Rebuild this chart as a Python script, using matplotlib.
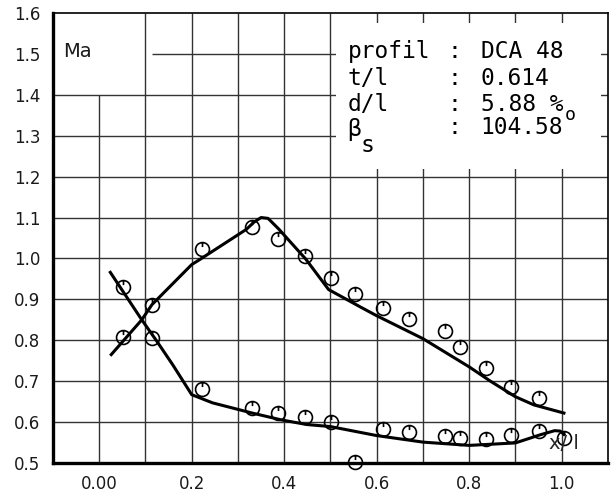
import numpy as np
import matplotlib.pyplot as plt
from matplotlib.path import Path
from matplotlib.patches import Rectangle

# measuring stations x/l
x_pts = [0.052, 0.114, 0.223, 0.331, 0.387, 0.445, 0.502, 0.554,
         0.614, 0.670, 0.747, 0.781, 0.836, 0.891, 0.950]
ma_ss = [0.809, 0.887, 1.024, 1.078, 1.047, 1.007, 0.951, 0.912,
         0.879, 0.853, 0.823, 0.784, 0.733, 0.685, 0.658]
x_ps = x_pts + [1.005]
ma_ps = [0.931, 0.806, 0.681, 0.635, 0.622, 0.613, 0.600, 0.503,
         0.583, 0.575, 0.566, 0.561, 0.559, 0.569, 0.577, 0.562]

# faired distributions
xs_ss = [0.026, 0.092, 0.114, 0.200, 0.217, 0.318, 0.335, 0.350, 0.365, 0.374,
         0.389, 0.447, 0.496, 0.567, 0.600, 0.700, 0.800, 0.846, 0.900, 0.940, 1.005]
ys_ss = [0.765, 0.850, 0.887, 0.985, 0.997, 1.071, 1.089, 1.100, 1.098, 1.088,
         1.071, 0.998, 0.924, 0.880, 0.860, 0.804, 0.735, 0.700, 0.662, 0.642, 0.622]
xs_ps = [0.024, 0.092, 0.125, 0.159, 0.200, 0.245, 0.331, 0.395, 0.449, 0.500,
         0.600, 0.700, 0.800, 0.900, 0.954, 0.985, 0.997, 1.005]
ys_ps = [0.966, 0.850, 0.797, 0.740, 0.667, 0.647, 0.622, 0.605, 0.594, 0.589,
         0.567, 0.551, 0.543, 0.549, 0.569, 0.579, 0.578, 0.570]

xticks = [0.0, 0.2, 0.4, 0.6, 0.8, 1.0]
xticklabels = ['0.00', '0.2', '0.4', '0.6', '0.8', '1.0']
yticks = np.round(np.arange(0.5, 1.61, 0.1), 1)

# open circle with a small tick at the top
circ = Path.make_compound_path(Path.unit_circle(),
                               Path([(0, 1), (0, 0.35)], [Path.MOVETO, Path.LINETO]))

fig = plt.figure(figsize=(6.14, 4.93), dpi=100)
ax = fig.add_axes([0.0863, 0.0609, 0.9037, 0.9127])
ax.set_xlim(-0.1, 1.1)
ax.set_ylim(0.5, 1.6)

gc = '0.2'
for gx in np.round(np.arange(0.0, 1.01, 0.1), 1):
    ax.vlines(gx, 0.5, 1.4 if gx == 0.0 else 1.6, color=gc, lw=1.0, zorder=0.5)
for gy in np.round(np.arange(0.6, 1.51, 0.1), 1):
    ax.hlines(gy, 0.114 if gy == 1.5 else -0.1, 1.1, color=gc, lw=1.0, zorder=0.5)

ax.add_patch(Rectangle((0.513, 1.218), 0.572, 0.357, fc='white', ec='none', zorder=0.8))

ax.plot(xs_ss, ys_ss, color='black', lw=2.2, zorder=2)
ax.plot(xs_ps, ys_ps, color='black', lw=2.2, zorder=2)
ax.plot(x_pts, ma_ss, ls='none', marker=circ, ms=10, mfc='none', mec='black',
        mew=1.2, zorder=3, clip_on=False)
ax.plot(x_ps, ma_ps, ls='none', marker=circ, ms=10, mfc='none', mec='black',
        mew=1.2, zorder=3, clip_on=False)

ax.set_xticks(xticks)
ax.set_xticklabels(xticklabels)
ax.set_yticks(yticks)
ax.set_yticklabels([f'{v:.1f}' for v in yticks])
ax.tick_params(length=0, labelsize=12, labelcolor='0.1')
ax.tick_params(axis='x', pad=9)
ax.tick_params(axis='y', pad=9)

for s in ['left', 'bottom']:
    ax.spines[s].set_linewidth(2.4)
for s in ['top', 'right']:
    ax.spines[s].set_linewidth(1.2)

ax.text(-0.077, 1.505, 'Ma', fontsize=14, ha='left', va='center', color='0.1')

mono = 'DejaVu Sans Mono'
fs = 16.5
rows = [('profil', 'DCA 48', 1.505), ('t/l', '0.614', 1.439),
        ('d/l', '5.88 %', 1.377)]
for lab, val, yy in rows:
    ax.text(0.537, yy, lab, family=mono, fontsize=fs, ha='left', va='center')
    ax.text(0.769, yy, ':', family=mono, fontsize=fs, ha='center', va='center')
    ax.text(0.825, yy, val, family=mono, fontsize=fs, ha='left', va='center')
ax.text(0.537, 1.315, '\u03b2', family=mono, fontsize=fs, ha='left', va='center')
ax.text(0.566, 1.277, 's', family=mono, fontsize=fs, ha='left', va='center')
ax.text(0.769, 1.319, ':', family=mono, fontsize=fs, ha='center', va='center')
ax.text(0.825, 1.319, '104.58', family=mono, fontsize=fs, ha='left', va='center')
ax.text(1.006, 1.350, 'o', family=mono, fontsize=13, ha='left', va='center')

ax.text(1.005, 0.548, 'x/ l', fontsize=14, ha='center', va='center', color='0.15',
        zorder=4)

fig.savefig('out.png', dpi=100)
